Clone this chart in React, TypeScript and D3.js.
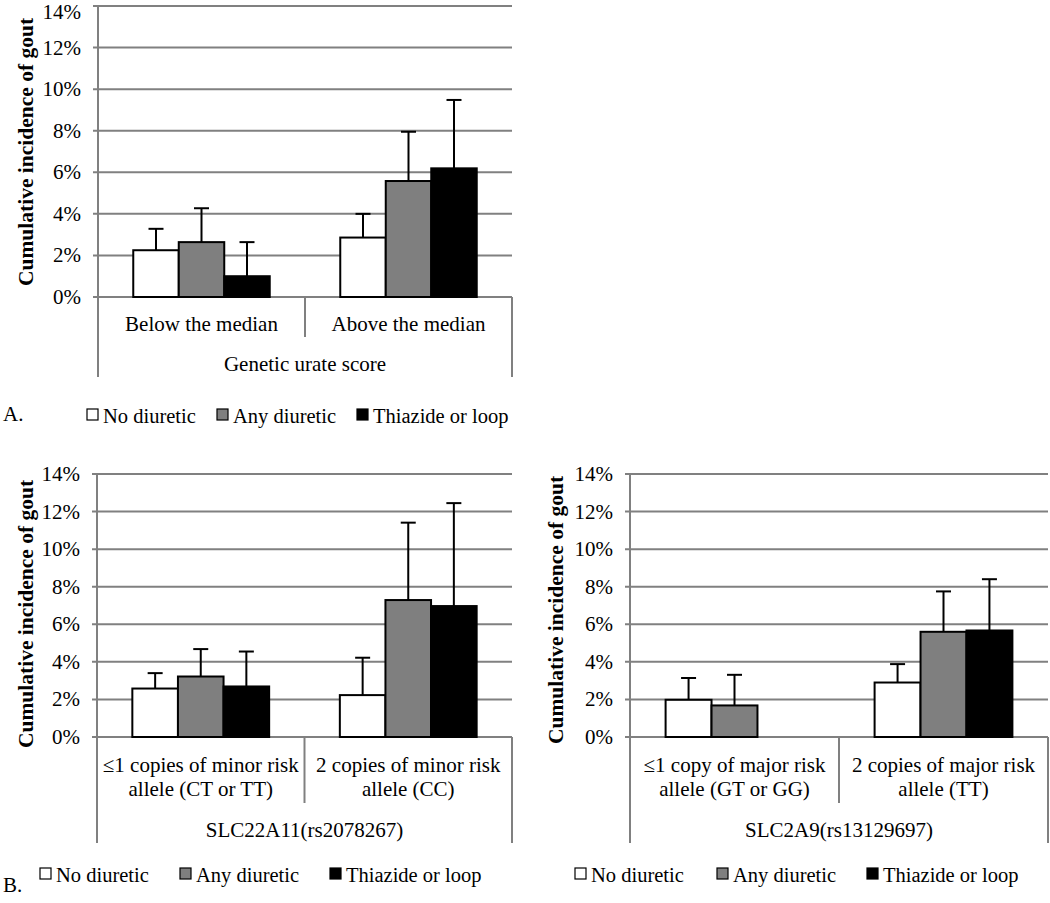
import React from "react";
import * as d3 from "d3";

const seriesNames = ["No diuretic", "Any diuretic", "Thiazide or loop"];
const seriesFills = ["#ffffff", "#7f7f7f", "#000000"];
const yTicks = [0, 2, 4, 6, 8, 10, 12, 14];

// Panel A
const catsA = [["Below the median"], ["Above the median"]];
const groupA = "Genetic urate score";
const noDiureticA = [2.25, 2.86];
const anyDiureticA = [2.64, 5.58];
const thiazideA = [1.0, 6.19];
const noDiureticErrA = [3.28, 4.0];
const anyDiureticErrA = [4.27, 7.95];
const thiazideErrA = [2.64, 9.48];

// Panel B left
const catsB1 = [["≤1 copies of minor risk", "allele (CT or TT)"], ["2 copies of minor risk", "allele (CC)"]];
const groupB1 = "SLC22A11(rs2078267)";
const noDiureticB1 = [2.58, 2.23];
const anyDiureticB1 = [3.22, 7.29];
const thiazideB1 = [2.69, 6.97];
const noDiureticErrB1 = [3.4, 4.22];
const anyDiureticErrB1 = [4.68, 11.41];
const thiazideErrB1 = [4.55, 12.45];

// Panel B right
const catsB2 = [["≤1 copy of major risk", "allele (GT or GG)"], ["2 copies of major risk", "allele (TT)"]];
const groupB2 = "SLC2A9(rs13129697)";
const noDiureticB2 = [1.98, 2.9];
const anyDiureticB2 = [1.68, 5.6];
const thiazideB2: (number | null)[] = [null, 5.67];
const noDiureticErrB2 = [3.14, 3.88];
const anyDiureticErrB2 = [3.31, 7.75];
const thiazideErrB2: (number | null)[] = [null, 8.4];

const FONT = "'Liberation Serif', 'Times New Roman', Times, serif";
const GRID = "#808080";
const FS = 21;

type PanelProps = {
  left: number; right: number; top: number; bottom: number;
  cats: string[][]; group: string;
  values: (number | null)[][]; errors: (number | null)[][];
  titleX: number; titleY: number;
  catBaseline: number; groupBaseline: number; dividerEnd: number; outerEnd: number;
  legendSq: number[]; legendTop: number;
};

function Panel(p: PanelProps) {
  const y = d3.scaleLinear().domain([0, 14]).range([p.bottom, p.top]);
  const catKeys = p.cats.map((c) => c.join(" "));
  const x = d3.scaleBand().domain(catKeys).range([p.left, p.right]).paddingInner(0).paddingOuter(0);
  const xs = d3.scaleBand().domain(seriesNames).range([0, x.bandwidth()]).paddingInner(0).paddingOuter(0.775);
  const bw = xs.bandwidth();
  const cap = 15;
  return (
    <g>
      {yTicks.map((t) => (
        <g key={t}>
          <line x1={p.left - 5} x2={p.right} y1={y(t)} y2={y(t)} stroke={GRID} strokeWidth={2} />
          <text x={p.left - 17} y={Math.max(y(t), 12)} dy="0.33em" textAnchor="end" fontSize={FS} fontFamily={FONT}>{t}%</text>
        </g>
      ))}
      <line x1={p.left} x2={p.left} y1={p.top} y2={p.outerEnd} stroke={GRID} strokeWidth={2} />
      <line x1={p.right} x2={p.right} y1={p.bottom} y2={p.outerEnd} stroke={GRID} strokeWidth={2} />
      {catKeys.slice(1).map((k) => (
        <line key={k} x1={x(k)!} x2={x(k)!} y1={p.bottom} y2={p.dividerEnd} stroke={GRID} strokeWidth={2} />
      ))}
      {catKeys.map((k, ci) =>
        seriesNames.map((s, si) => {
          const v = p.values[si][ci];
          if (v == null) return null;
          const e = p.errors[si][ci];
          const bx = x(k)! + xs(s)!;
          const cx = bx + bw / 2;
          return (
            <g key={k + s}>
              <rect x={bx} y={y(v)} width={bw} height={y(0) - y(v)} fill={seriesFills[si]} stroke="#000" strokeWidth={2} />
              {e != null && (
                <g>
                  <line x1={cx} x2={cx} y1={y(v)} y2={y(e)} stroke="#000" strokeWidth={2} />
                  <line x1={cx - cap / 2} x2={cx + cap / 2} y1={y(e)} y2={y(e)} stroke="#000" strokeWidth={2} />
                </g>
              )}
            </g>
          );
        })
      )}
      {catKeys.map((k, ci) => (
        <text key={k} textAnchor="middle" fontSize={FS} fontFamily={FONT}>
          {p.cats[ci].map((line, li) => (
            <tspan key={li} x={x(k)! + x.bandwidth() / 2} y={p.catBaseline + li * 24}>{line}</tspan>
          ))}
        </text>
      ))}
      <text x={(p.left + p.right) / 2} y={p.groupBaseline} textAnchor="middle" fontSize={FS} fontFamily={FONT}>{p.group}</text>
      <text transform={`translate(${p.titleX},${p.titleY}) rotate(-90)`} textAnchor="middle" fontSize={21.5} fontWeight="bold" fontFamily={FONT}>
        Cumulative incidence of gout
      </text>
      {seriesNames.map((s, i) => (
        <g key={s}>
          <rect x={p.legendSq[i]} y={p.legendTop} width={11} height={11} fill={seriesFills[i]} stroke="#000" strokeWidth={1.2} />
          <text x={p.legendSq[i] + 16} y={p.legendTop + 14} fontSize={20.5} fontFamily={FONT}>{s}</text>
        </g>
      ))}
    </g>
  );
}

export default function App() {
  return (
    <svg width={1050} height={903} style={{ position: "absolute", left: 0, top: 0, background: "#fff" }}>
      <rect x={0} y={0} width={1050} height={903} fill="#fff" />
      <Panel left={98} right={512} top={6} bottom={297}
        cats={catsA} group={groupA}
        values={[noDiureticA, anyDiureticA, thiazideA]}
        errors={[noDiureticErrA, anyDiureticErrA, thiazideErrA]}
        titleX={33} titleY={152}
        catBaseline={331} groupBaseline={371} dividerEnd={337} outerEnd={377}
        legendSq={[87, 217, 357]} legendTop={409} />
      <Panel left={97} right={512} top={474} bottom={737}
        cats={catsB1} group={groupB1}
        values={[noDiureticB1, anyDiureticB1, thiazideB1]}
        errors={[noDiureticErrB1, anyDiureticErrB1, thiazideErrB1]}
        titleX={33} titleY={614}
        catBaseline={772} groupBaseline={837} dividerEnd={803} outerEnd={843}
        legendSq={[40, 180, 330]} legendTop={868} />
      <Panel left={630} right={1048} top={474} bottom={737}
        cats={catsB2} group={groupB2}
        values={[noDiureticB2, anyDiureticB2, thiazideB2]}
        errors={[noDiureticErrB2, anyDiureticErrB2, thiazideErrB2]}
        titleX={563} titleY={610}
        catBaseline={772} groupBaseline={837} dividerEnd={803} outerEnd={843}
        legendSq={[575, 717, 867]} legendTop={868} />
      <text x={3} y={421} fontSize={FS} fontFamily={FONT}>A.</text>
      <text x={3} y={892} fontSize={FS} fontFamily={FONT}>B.</text>
    </svg>
  );
}
